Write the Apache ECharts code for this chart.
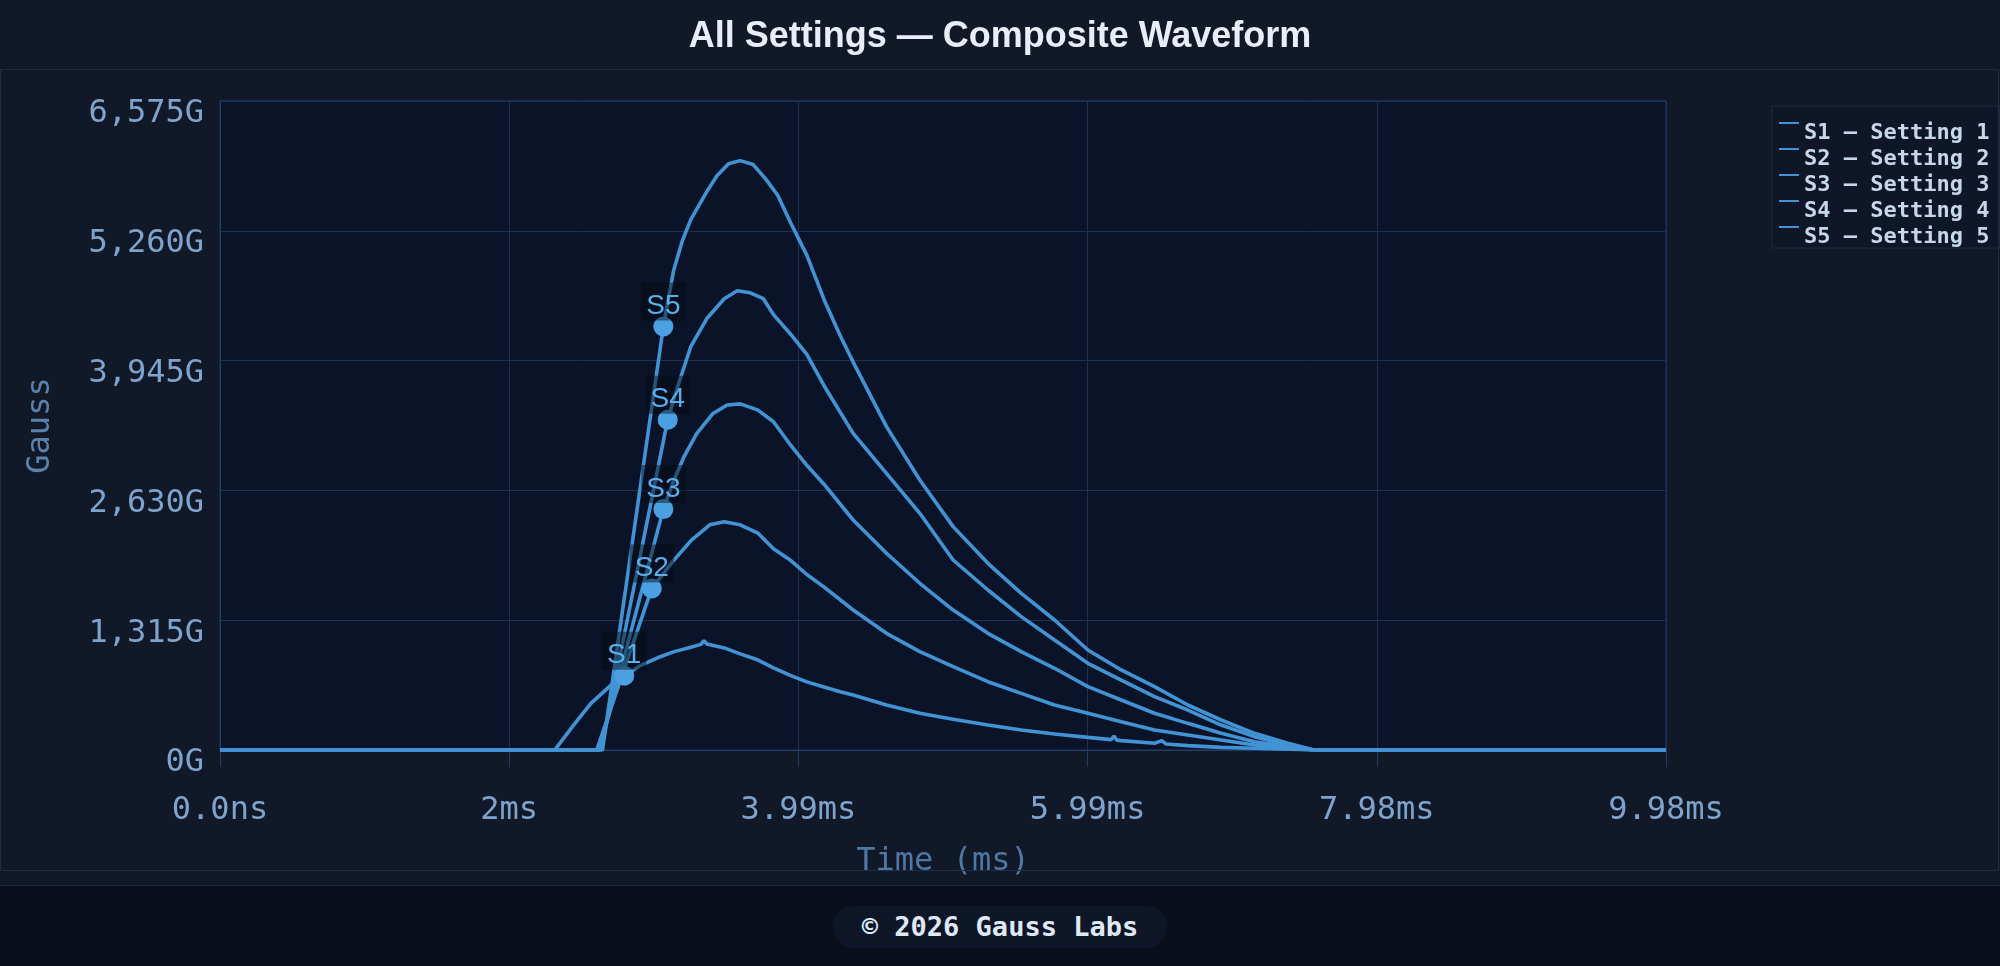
<!DOCTYPE html>
<html>
<head>
<meta charset="utf-8">
<title>All Settings — Composite Waveform</title>
<script src="https://cdn.jsdelivr.net/npm/echarts@6/dist/echarts.min.js"></script>
<style>
  html, body { margin: 0; padding: 0; background: #111827; overflow: hidden; }
  #chart-container { position: absolute; left: 0; top: 0; width: 2000px; height: 966px; }
  #panel { position: absolute; left: 0; top: 69px; width: 1997px; height: 800px;
           border: 1px solid #1f2c44; pointer-events: none; }
  #footer { position: absolute; left: 0; top: 885px; width: 2000px; height: 81px;
            background: #0a0f1c; border-top: 1px solid #12303f; }
  #footer span { position: absolute; left: 833px; top: 20px; width: 334px; height: 42px;
                 line-height: 42px; border-radius: 21px; background: #0e1628; text-align: center;
                 font-family: "DejaVu Sans Mono", monospace; font-weight: bold; font-size: 27px;
                 color: #dfe8f5; }
</style>
</head>
<body>
<div id="chart-container"></div>
<div id="panel"></div>
<div id="footer"><span>© 2026 Gauss Labs</span></div>
<script>
var seriesNames = ["S1 — Setting 1", "S2 — Setting 2", "S3 — Setting 3", "S4 — Setting 4", "S5 — Setting 5"];
var markerLabels = ["S1", "S2", "S3", "S4", "S5"];

// time in ms, field in gauss
var s1Time = [0, 2.31, 2.45, 2.56, 2.71, 2.79, 2.90, 3.02, 3.13, 3.25, 3.32, 3.34, 3.36, 3.48, 3.59, 3.71, 3.82, 3.94, 4.05, 4.14, 4.28, 4.37, 4.60, 4.83, 5.06, 5.30, 5.53, 5.76, 5.99, 6.15, 6.17, 6.19, 6.22, 6.45, 6.50, 6.53, 6.68, 6.91, 7.14, 7.37, 7.55, 9.98];
var s1Gauss = [0, 0, 270, 472, 673, 753, 854, 934, 994, 1042, 1070, 1107, 1075, 1034, 974, 914, 833, 753, 690, 650, 590, 557, 456, 372, 311, 253, 203, 162, 128, 105, 140, 100, 95, 68, 95, 60, 44, 27, 17, 8, 0, 0];

var s2Time = [0, 2.60, 2.98, 3.13, 3.25, 3.38, 3.48, 3.59, 3.71, 3.82, 3.94, 4.05, 4.17, 4.37, 4.60, 4.83, 5.06, 5.30, 5.53, 5.76, 5.99, 6.22, 6.45, 6.68, 6.91, 7.14, 7.37, 7.55, 9.98];
var s2Gauss = [0, 0, 1637, 1919, 2120, 2281, 2313, 2281, 2200, 2039, 1919, 1778, 1650, 1418, 1182, 996, 844, 692, 574, 456, 372, 287, 203, 152, 101, 51, 17, 0, 0];

var s3Time = [0, 2.62, 3.06, 3.13, 3.20, 3.29, 3.40, 3.50, 3.59, 3.71, 3.82, 3.94, 4.05, 4.17, 4.37, 4.60, 4.83, 5.06, 5.30, 5.53, 5.76, 5.99, 6.22, 6.45, 6.68, 6.91, 7.14, 7.37, 7.55, 9.98];
var s3Gauss = [0, 0, 2441, 2723, 2964, 3205, 3406, 3495, 3507, 3446, 3326, 3085, 2884, 2690, 2330, 1993, 1689, 1418, 1182, 996, 828, 642, 507, 372, 270, 169, 84, 34, 0, 0];

var s4Time = [0, 2.63, 3.09, 3.16, 3.25, 3.36, 3.48, 3.57, 3.66, 3.75, 3.82, 3.94, 4.05, 4.17, 4.37, 4.60, 4.83, 5.06, 5.30, 5.53, 5.76, 5.99, 6.22, 6.45, 6.68, 6.91, 7.14, 7.37, 7.55, 9.98];
var s4Gauss = [0, 0, 3346, 3688, 4090, 4371, 4572, 4652, 4632, 4572, 4411, 4210, 4009, 3688, 3208, 2803, 2398, 1925, 1621, 1351, 1115, 878, 709, 540, 405, 253, 135, 51, 0, 0];

var s5Time = [0, 2.64, 3.06, 3.13, 3.19, 3.25, 3.36, 3.43, 3.51, 3.59, 3.68, 3.77, 3.85, 3.94, 4.05, 4.17, 4.28, 4.37, 4.60, 4.83, 5.06, 5.30, 5.53, 5.76, 5.99, 6.22, 6.45, 6.68, 6.91, 7.14, 7.37, 7.55, 9.98];
var s5Gauss = [0, 0, 4291, 4853, 5155, 5376, 5657, 5818, 5939, 5971, 5931, 5778, 5617, 5336, 5014, 4560, 4200, 3930, 3276, 2735, 2263, 1891, 1587, 1317, 1013, 811, 642, 456, 304, 169, 68, 0, 0];

var markerTime = [2.79, 2.98, 3.06, 3.09, 3.06];
var markerGauss = [753, 1637, 2441, 3346, 4291];

var xMax = 9.98, xStep = 1.996;
var yMax = 6575, yStep = 1315;

var allTimes = [s1Time, s2Time, s3Time, s4Time, s5Time];
var allGauss = [s1Gauss, s2Gauss, s3Gauss, s4Gauss, s5Gauss];

var mono = '"DejaVu Sans Mono", monospace';
var lineColor = "#4193d4";

var dom = document.getElementById("chart-container");
var myChart = echarts.init(dom, null, { renderer: "canvas" });

var series = seriesNames.map(function (name, i) {
  return {
    name: name,
    type: "line",
    showSymbol: false,
    symbol: "none",
    color: lineColor,
    lineStyle: { width: 3.6, color: lineColor },
    data: allTimes[i].map(function (t, j) { return [t, allGauss[i][j]]; }),
    markPoint: {
      symbol: "circle",
      symbolSize: 20,
      itemStyle: { color: "#4aa0e0" },
      label: {
        show: true,
        position: "top",
        distance: -4,
        formatter: markerLabels[i],
        fontFamily: '"Liberation Sans", Arial, sans-serif',
        fontSize: 28,
        color: "#5aaeea",
        backgroundColor: "rgba(4,8,16,0.45)",
        padding: [10, 5, 0, 5]
      },
      data: [{ coord: [markerTime[i], markerGauss[i]] }]
    }
  };
});

var option = {
  animation: false,
  backgroundColor: "#111827",
  title: {
    text: "All Settings — Composite Waveform",
    left: "center",
    top: 14,
    textStyle: {
      fontFamily: '"Liberation Sans", Arial, sans-serif',
      fontWeight: "bold",
      fontSize: 36,
      color: "#e8eef8"
    }
  },
  legend: {
    data: seriesNames,
    orient: "vertical",
    left: 1772,
    top: 106,
    padding: [16, 10, 0, 7],
    itemGap: 4,
    itemWidth: 20,
    itemHeight: 22,
    icon: "path://M0,0H20V2H0Z M0,22H0.05V22.05H0Z",
    backgroundColor: "#0e1628",
    borderColor: "#1c2a40",
    borderWidth: 1,
    textStyle: {
      fontFamily: mono,
      fontWeight: "bold",
      fontSize: 22,
      lineHeight: 22,
      color: "#c8d6ea"
    }
  },
  grid: {
    left: 220,
    top: 101,
    width: 1446,
    height: 649,
    show: true,
    backgroundColor: "#0a1328",
    borderColor: "#213d66",
    borderWidth: 1
  },
  xAxis: {
    type: "value",
    min: 0,
    max: xMax,
    interval: xStep,
    name: "Time (ms)",
    nameLocation: "middle",
    nameGap: 96,
    nameTextStyle: { fontFamily: mono, fontSize: 32, color: "#4f77a3" },
    axisLine: { show: true, lineStyle: { color: "#213d66" } },
    axisTick: { show: true, length: 17, lineStyle: { color: "#213d66" } },
    axisLabel: {
      margin: 45,
      fontFamily: mono,
      fontSize: 32,
      color: "#7ea3cc",
      formatter: function (v) {
        if (v === 0) return "0.0ns";
        return parseFloat(v.toFixed(2)) + "ms";
      }
    },
    splitLine: { show: true, lineStyle: { color: "#1b3254" } }
  },
  yAxis: {
    type: "value",
    min: 0,
    max: yMax,
    interval: yStep,
    name: "Gauss",
    nameLocation: "middle",
    nameGap: 163,
    nameTextStyle: { fontFamily: mono, fontSize: 32, color: "#5b82ad" },
    axisLine: { show: true, lineStyle: { color: "#213d66" } },
    axisTick: { show: false },
    axisLabel: {
      margin: 16,
      fontFamily: mono,
      fontSize: 32,
      lineHeight: 26,
      verticalAlign: "top",
      color: "#7ea3cc",
      formatter: function (v) { return v.toLocaleString("en-US") + "G"; }
    },
    splitLine: { show: true, lineStyle: { color: "#1b3254" } }
  },
  series: series
};

myChart.setOption(option);
window.addEventListener("resize", myChart.resize);
</script>
</body>
</html>
